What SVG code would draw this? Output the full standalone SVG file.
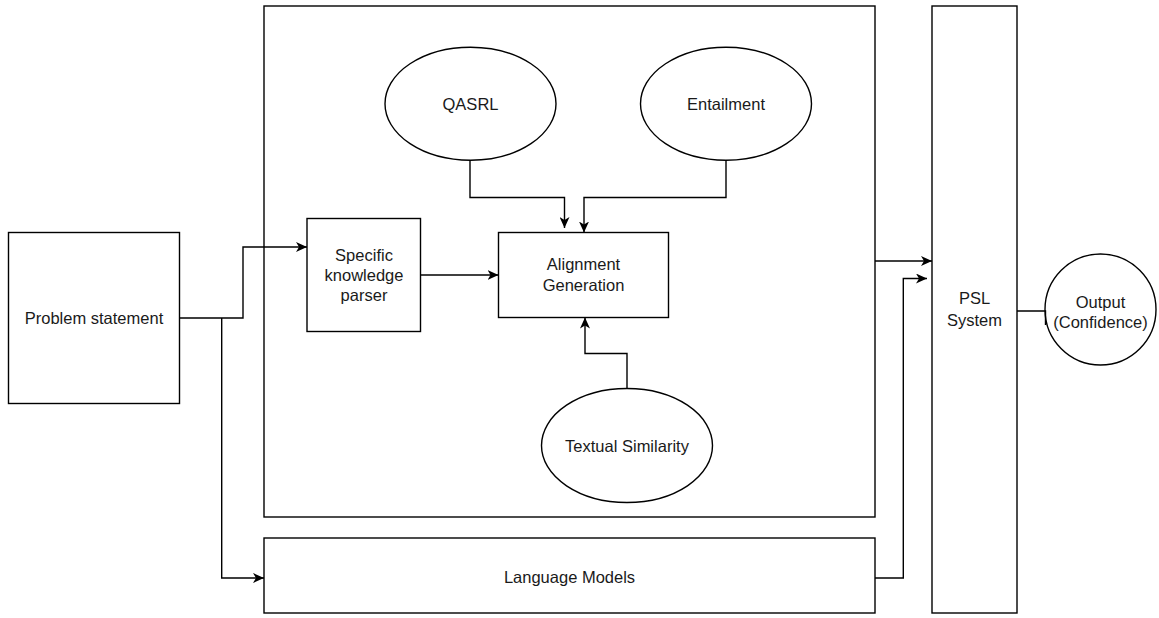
<svg xmlns="http://www.w3.org/2000/svg" width="1159" height="618" viewBox="0 0 1159 618">
<style>
.s{fill:#fff;stroke:#000;stroke-width:1.4}
.t{font-family:"Liberation Sans",Arial,sans-serif;font-size:16.5px;fill:#1a1a1a;text-anchor:middle}
.c{fill:none;stroke:#000;stroke-width:1.4}
</style>
<defs>
<marker id="a" viewBox="0 0 11 10" refX="11" refY="5" markerWidth="11" markerHeight="10" markerUnits="userSpaceOnUse" orient="auto">
<path d="M0,0 L11,5 L0,10 L3,5 Z" fill="#000"/>
</marker>
</defs>
<rect width="1159" height="618" fill="#fff"/>
<g id="bigbox"><rect class="s" x="264" y="6" width="611" height="511"/></g>
<g id="problem"><rect class="s" x="8.5" y="232.5" width="171" height="171"/><text class="t" x="94" y="324">Problem statement</text></g>
<g id="skp"><rect class="s" x="307" y="218.5" width="113.5" height="113"/><text class="t" x="364" y="261">Specific</text><text class="t" x="364" y="281">knowledge</text><text class="t" x="364" y="301">parser</text></g>
<g id="align"><rect class="s" x="498.5" y="232.5" width="170" height="85"/><text class="t" x="583.5" y="270">Alignment</text><text class="t" x="583.5" y="291">Generation</text></g>
<g id="qasrl"><ellipse class="s" cx="470.5" cy="103.7" rx="85.5" ry="56.5"/><text class="t" x="470.5" y="110">QASRL</text></g>
<g id="entail"><ellipse class="s" cx="726" cy="103.7" rx="85.5" ry="56.5"/><text class="t" x="726" y="110">Entailment</text></g>
<g id="textsim"><ellipse class="s" cx="627" cy="445.5" rx="85.5" ry="57"/><text class="t" x="627" y="452">Textual Similarity</text></g>
<g id="lm"><rect class="s" x="264" y="538" width="611" height="75"/><text class="t" x="569.5" y="583">Language Models</text></g>
<g id="psl"><rect class="s" x="932" y="6" width="85" height="607"/><text class="t" x="974.5" y="304">PSL</text><text class="t" x="974.5" y="326">System</text></g>
<g id="output"><circle class="s" cx="1100.5" cy="309.5" r="55.5"/><text class="t" x="1100.5" y="308">Output</text><text class="t" x="1100.5" y="328">(Confidence)</text></g>
<g id="connectors">
<path class="c" d="M179.5,318 H243 V247 H307" marker-end="url(#a)"/>
<path class="c" d="M221.7,318 V578 H264" marker-end="url(#a)"/>
<path class="c" d="M420.5,275 H498.5" marker-end="url(#a)"/>
<path class="c" d="M470,160 V197.5 H564.5 V228" marker-end="url(#a)"/>
<path class="c" d="M726,160 V197.5 H584 V232.5" marker-end="url(#a)"/>
<path class="c" d="M627,388.5 V353.5 H585 V317.5" marker-end="url(#a)"/>
<path class="c" d="M875,261 H932" marker-end="url(#a)"/>
<path class="c" d="M875,578 H903.3 V278.5 H927" marker-end="url(#a)"/>
<path class="c" d="M1017,311 H1045.5 V325"/>
</g>
</svg>
